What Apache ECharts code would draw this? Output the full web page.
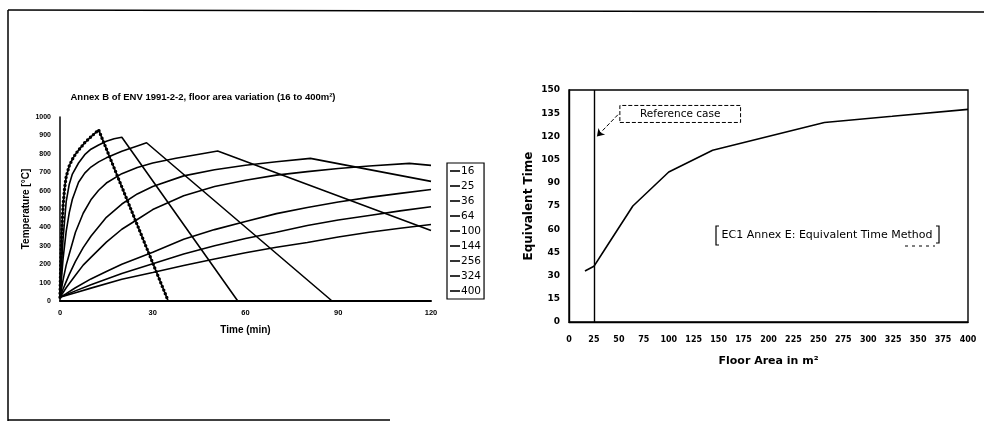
<!DOCTYPE html>
<html><head><meta charset="utf-8">
<script src="https://cdn.jsdelivr.net/npm/echarts@6/dist/echarts.min.js"></script>
<style>html,body{margin:0;padding:0;background:#fff}#c{width:984px;height:423px}</style>
</head><body><div id="c"></div>
<script>
// ---- Left chart: Annex B parametric curves (time in min, temperature in °C)
const areaNames = ['16','25','36','64','100','144','256','324','400'];
const t16 = [0, 0.25, 0.5, 0.75, 1, 1.5, 2, 3, 4, 5, 6, 8, 10, 12.5, 35, 120];
const T16 = [20, 210, 345, 440, 520, 615, 675, 735, 770, 798, 820, 860, 892, 930, 0, 0];
const t25 = [0, 0.5, 1, 2, 3, 4, 6, 8, 10, 12.5, 15, 17.5, 20, 57.5, 120];
const T25 = [20, 200, 340, 540, 635, 690, 750, 795, 825, 848, 868, 882, 890, 0, 0];
const t36 = [0, 1, 2, 3, 4, 6, 8, 10, 12.5, 15, 20, 25, 28, 88, 120];
const T36 = [20, 230, 378, 480, 553, 645, 695, 728, 756, 778, 814, 843, 860, 0, 0];
const t64 = [0, 1, 2, 3, 5, 7.5, 10, 12.5, 15, 20, 25, 30, 37.5, 45, 51, 120];
const T64 = [20, 115, 195, 255, 374, 477, 550, 602, 641, 692, 726, 750, 776, 798, 815, 383];
const t100 = [0, 1, 2, 3, 5, 7.5, 10, 15, 20, 25, 30, 40, 50, 60, 70, 81, 120];
const T100 = [20, 65, 105, 145, 215, 290, 352, 455, 527, 582, 622, 680, 713, 738, 757, 775, 650];
const t144 = [0, 2, 5, 7.5, 10, 15, 20, 25, 30, 40, 50, 60, 70, 80, 90, 100, 113, 120];
const T144 = [20, 72, 140, 195, 237, 320, 390, 443, 497, 572, 622, 656, 684, 703, 720, 734, 748, 737];
const t256 = [0, 2, 5, 10, 15, 20, 30, 40, 50, 60, 70, 80, 90, 100, 110, 120];
const T256 = [20, 40, 72, 120, 160, 200, 265, 335, 388, 432, 475, 508, 538, 563, 585, 606];
const t324 = [0, 5, 10, 20, 30, 40, 50, 60, 70, 80, 90, 100, 110, 120];
const T324 = [20, 55, 88, 150, 203, 255, 300, 340, 374, 410, 440, 465, 490, 512];
const t400 = [0, 5, 10, 20, 30, 40, 50, 60, 70, 80, 90, 100, 110, 120];
const T400 = [20, 45, 70, 118, 155, 193, 228, 262, 292, 318, 348, 374, 395, 416];

// ---- Right chart: equivalent time vs floor area
const floorAreas = [16, 25, 36, 64, 100, 144, 256, 324, 400];
const equivTime = [33, 36, 47, 75, 97, 111, 129, 133, 137.5];
const referenceArea = 25;

const zip = (ts, vs) => ts.map((t, i) => [t, vs[i]]);
const curves = [[t16,T16],[t25,T25],[t36,T36],[t64,T64],[t100,T100],[t144,T144],[t256,T256],[t324,T324],[t400,T400]];

const AR = 'Liberation Sans, Arial, sans-serif';
const DJ = 'DejaVu Sans, sans-serif';

const series = curves.map((c, i) => ({
  name: areaNames[i], type: 'line', xAxisIndex: 0, yAxisIndex: 0,
  data: zip(c[0], c[1]), symbol: 'none', silent: true,
  itemStyle: {color: '#000'}, lineStyle: {color: '#000', width: 1.6}, z: 3
}));
// dotted overlay for the 16 m² curve
series.push({
  name: '16dots', type: 'line', xAxisIndex: 0, yAxisIndex: 0,
  data: zip(t16, T16).filter(p => p[0] <= 35), symbol: 'none', silent: true,
  lineStyle: {color: '#000', width: 3.4, type: [0, 4], cap: 'round'}, z: 4
});
series.push({
  name: 'teq', type: 'line', xAxisIndex: 1, yAxisIndex: 1,
  data: zip(floorAreas, equivTime), symbol: 'none', silent: true,
  lineStyle: {color: '#000', width: 1.6}, itemStyle: {color: '#000'},
  markLine: {
    silent: true, symbol: ['none', 'none'], animation: false,
    label: {show: false},
    data: [
      {xAxis: referenceArea, lineStyle: {color: '#000', width: 1.4, type: 'solid'}},
      [{coord: [49, 134], symbol: 'none', lineStyle: {color: '#000', width: 1, type: [4, 2]}},
       {coord: [28, 120], symbol: 'arrow', symbolSize: 7}]
    ]
  },
  markArea: {
    silent: true,
    itemStyle: {color: 'rgba(0,0,0,0)', borderColor: '#000', borderWidth: 1, borderType: [4, 2]},
    label: {show: true, position: 'inside', formatter: 'Reference case', color: '#000', fontFamily: DJ, fontSize: 10.5},
    data: [[{coord: [51, 129]}, {coord: [172, 140]}]]
  }
});

const option = {
  animation: false,
  backgroundColor: '#fff',
  grid: [
    {left: 60, top: 117, width: 371, height: 184},
    {left: 569, top: 90, width: 399, height: 232, show: true, borderColor: '#000', borderWidth: 1.4, backgroundColor: 'rgba(0,0,0,0)'}
  ],
  xAxis: [
    {gridIndex: 0, type: 'value', min: 0, max: 120, interval: 30,
     axisLine: {lineStyle: {color: '#000', width: 2}}, axisTick: {show: false}, splitLine: {show: false},
     axisLabel: {color: '#000', fontFamily: AR, fontWeight: 'bold', fontSize: 7.5, margin: 8},
     name: 'Time (min)', nameLocation: 'middle', nameGap: 24,
     nameTextStyle: {color: '#000', fontFamily: AR, fontWeight: 'bold', fontSize: 10}},
    {gridIndex: 1, type: 'value', min: 0, max: 400, interval: 25,
     axisLine: {lineStyle: {color: '#000', width: 1.4}}, axisTick: {show: false}, splitLine: {show: false},
     axisLabel: {color: '#000', fontFamily: DJ, fontWeight: 'bold', fontSize: 8, margin: 14},
     name: 'Floor Area in m²', nameLocation: 'middle', nameGap: 34,
     nameTextStyle: {color: '#000', fontFamily: DJ, fontWeight: 'bold', fontSize: 11}}
  ],
  yAxis: [
    {gridIndex: 0, type: 'value', min: 0, max: 1000, interval: 100,
     axisLine: {show: true, lineStyle: {color: '#000', width: 1.5}}, axisTick: {show: false}, splitLine: {show: false},
     axisLabel: {color: '#000', fontFamily: AR, fontWeight: 'bold', fontSize: 7, margin: 9, formatter: v => String(v)},
     name: 'Temperature [°C]', nameLocation: 'middle', nameGap: 24,
     nameTextStyle: {color: '#000', fontFamily: AR, fontWeight: 'bold', fontSize: 10}},
    {gridIndex: 1, type: 'value', min: 0, max: 150, interval: 15,
     axisLine: {show: true, lineStyle: {color: '#000', width: 1.4}}, axisTick: {show: false}, splitLine: {show: false},
     axisLabel: {color: '#000', fontFamily: DJ, fontWeight: 'bold', fontSize: 9, margin: 9},
     name: 'Equivalent Time', nameLocation: 'middle', nameGap: 34,
     nameTextStyle: {color: '#000', fontFamily: DJ, fontWeight: 'bold', fontSize: 12}}
  ],
  legend: {
    data: areaNames, orient: 'vertical', left: 447, top: 163,
    icon: 'rect', itemWidth: 10, itemHeight: 1.6, itemGap: 3,
    borderColor: '#000', borderWidth: 1.2, padding: [2, 3, 2, 3],
    selectedMode: false,
    textStyle: {color: '#000', fontFamily: DJ, fontSize: 10.5, lineHeight: 12, padding: [0, 0, 0, -4]}
  },
  graphic: [
    {type: 'line', shape: {x1: 8, y1: 10, x2: 984, y2: 12}, style: {stroke: '#000', lineWidth: 1.5}},
    {type: 'line', shape: {x1: 8, y1: 10, x2: 8, y2: 421}, style: {stroke: '#000', lineWidth: 1.5}},
    {type: 'line', shape: {x1: 8, y1: 420, x2: 390, y2: 420}, style: {stroke: '#000', lineWidth: 1.5}},
    {type: 'text', x: 203, y: 97, style: {text: 'Annex B of ENV 1991-2-2, floor area variation (16 to 400m²)',
      fill: '#000', font: 'bold 9.5px Liberation Sans, Arial, sans-serif', textAlign: 'center', textVerticalAlign: 'middle'}},
    {type: 'text', x: 827, y: 235, style: {text: 'EC1 Annex E: Equivalent Time Method',
      fill: '#000', font: '11px DejaVu Sans, sans-serif', textAlign: 'center', textVerticalAlign: 'middle'}},
    {type: 'polyline', shape: {points: [[719, 226], [716, 226], [716, 245], [719, 245]]}, style: {stroke: '#000', fill: null, lineWidth: 1.2}},
    {type: 'polyline', shape: {points: [[936, 226], [939, 226], [939, 243], [936, 243]]}, style: {stroke: '#000', fill: null, lineWidth: 1.2}},
    {type: 'line', shape: {x1: 905, y1: 246, x2: 935, y2: 246}, style: {stroke: '#000', lineWidth: 1, lineDash: [3, 4]}}
  ],
  series: series
};
const chart = echarts.init(document.getElementById('c'), null, {renderer: 'canvas'});
chart.setOption(option);
</script>
</body></html>
